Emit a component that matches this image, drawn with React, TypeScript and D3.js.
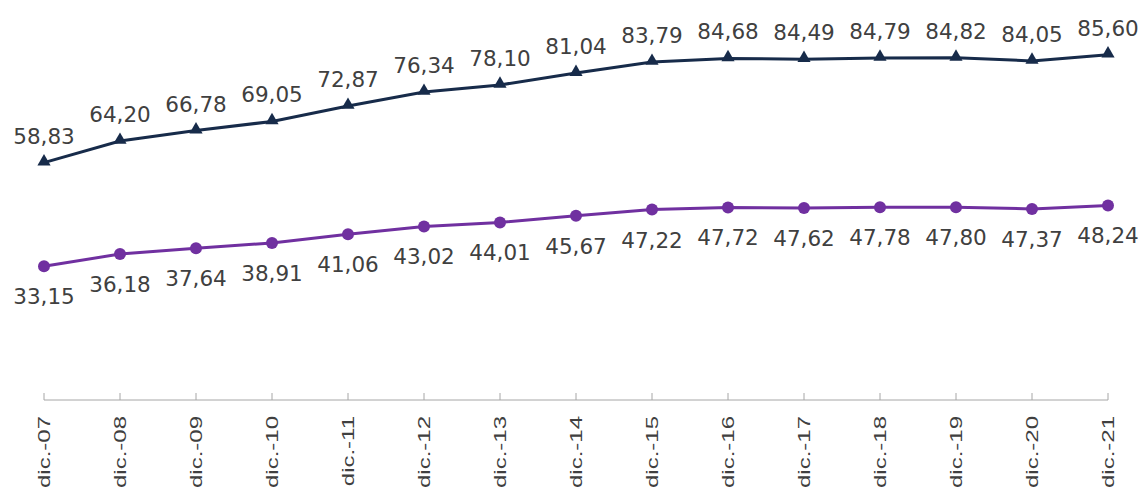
import React from 'react';
import * as d3 from 'd3';

const categories = [
  'dic.-07', 'dic.-08', 'dic.-09', 'dic.-10', 'dic.-11', 'dic.-12', 'dic.-13', 'dic.-14',
  'dic.-15', 'dic.-16', 'dic.-17', 'dic.-18', 'dic.-19', 'dic.-20', 'dic.-21',
];
const upperSeries = [
  58.83, 64.2, 66.78, 69.05, 72.87, 76.34, 78.1, 81.04, 83.79, 84.68, 84.49, 84.79, 84.82, 84.05, 85.6,
];
const lowerSeries = [
  33.15, 36.18, 37.64, 38.91, 41.06, 43.02, 44.01, 45.67, 47.22, 47.72, 47.62, 47.78, 47.8, 47.37, 48.24,
];

const W = 1143;
const H = 491;
const NAVY = '#172b4a';
const PURPLE = '#7030a0';

const fmt = (v: number) => v.toFixed(2).replace('.', ',');

const App: React.FC = () => {
  const x = d3.scalePoint<string>().domain(categories).range([44, 1108]);
  const y = d3.scaleLinear().domain([0, 100]).range([400, -3.4]);

  const line = d3
    .line<number>()
    .x((_, i) => x(categories[i]) as number)
    .y((d) => y(d));

  const tri = d3.symbol().type(d3.symbolTriangle).size(75)() as string;

  return (
    <svg
      width={W}
      height={H}
      style={{ position: 'absolute', left: 0, top: 0, background: '#fff' }}>
      {/* eje */}
      <line x1={44} x2={1108} y1={400} y2={400} stroke="#a6a6a6" strokeWidth={1} />
      {categories.map((c) => (
        <g key={c}>
          <line x1={x(c)} x2={x(c)} y1={393} y2={400} stroke="#a6a6a6" strokeWidth={1} />
          <text
            transform={`translate(${(x(c) as number) + 6},416) rotate(-90) scale(1.5,1)`}
            textAnchor="end"
            fontFamily="'Liberation Sans', Arial, sans-serif"
            fontSize={16}
            fill="#404040">
            {c}
          </text>
        </g>
      ))}

      {/* serie superior */}
      <path d={line(upperSeries) as string} fill="none" stroke={NAVY} strokeWidth={3} />
      {upperSeries.map((v, i) => (
        <g key={'u' + i}>
          <path d={tri} transform={`translate(${x(categories[i])},${y(v) - 1})`} fill={NAVY} />
          <text
            x={x(categories[i])}
            y={y(v) - 19}
            textAnchor="middle"
            fontFamily="'DejaVu Sans', sans-serif"
            fontSize={21.5}
            fill="#404040">
            {fmt(v)}
          </text>
        </g>
      ))}

      {/* serie inferior */}
      <path d={line(lowerSeries) as string} fill="none" stroke={PURPLE} strokeWidth={3} />
      {lowerSeries.map((v, i) => (
        <g key={'l' + i}>
          <circle cx={x(categories[i])} cy={y(v)} r={6} fill={PURPLE} />
          <text
            x={x(categories[i])}
            y={y(v) + 38}
            textAnchor="middle"
            fontFamily="'DejaVu Sans', sans-serif"
            fontSize={21.5}
            fill="#404040">
            {fmt(v)}
          </text>
        </g>
      ))}
    </svg>
  );
};

export default App;
